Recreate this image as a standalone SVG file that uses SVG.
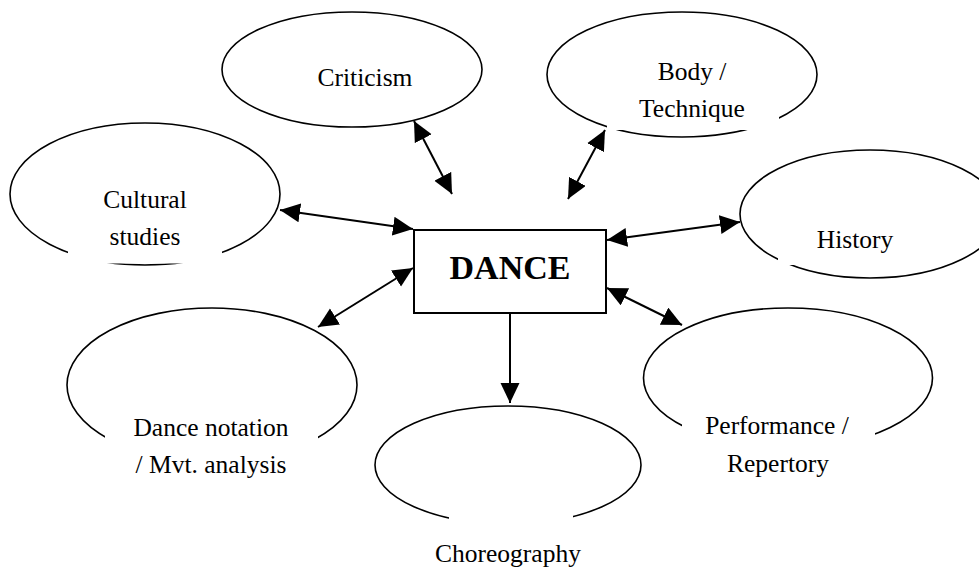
<svg xmlns="http://www.w3.org/2000/svg" width="979" height="568" viewBox="0 0 979 568">
<style>
.oval{fill:none;stroke:#000;stroke-width:1.6}
.mask{fill:#fff;stroke:none}
.lbl{font-family:"Liberation Serif","Times New Roman",serif;font-size:25.5px;fill:#000;text-anchor:middle}
.main{font-family:"Liberation Serif","Times New Roman",serif;font-size:34px;font-weight:bold;fill:#000;text-anchor:middle}
.conn{stroke:#000;stroke-width:2;fill:none}
</style>
<defs>
<marker id="ah" markerUnits="userSpaceOnUse" markerWidth="22" markerHeight="20" refX="20" refY="9.5" orient="auto-start-reverse" viewBox="0 0 22 20">
<path d="M0,0 L20,9.5 L0,19 z" fill="#000"/>
</marker>
</defs>
<rect width="979" height="568" fill="#fff"/>
<g id="criticism">
<ellipse class="oval" cx="352" cy="69.5" rx="130" ry="57.5"/>
<text class="lbl" x="365" y="86">Criticism</text>
</g>
<g id="body-technique">
<ellipse class="oval" cx="682" cy="74.5" rx="135" ry="62.5"/>
<rect class="mask" x="607" y="60" width="172" height="70"/>
<text class="lbl" x="692" y="80">Body /</text>
<text class="lbl" x="692" y="117">Technique</text>
</g>
<g id="cultural-studies">
<ellipse class="oval" cx="145" cy="194" rx="135" ry="71"/>
<rect class="mask" x="68" y="160" width="154" height="103.5"/>
<text class="lbl" x="145" y="208">Cultural</text>
<text class="lbl" x="145" y="245">studies</text>
</g>
<g id="history">
<ellipse class="oval" cx="870" cy="214" rx="130" ry="64"/>
<rect class="mask" x="778" y="225" width="127" height="40"/>
<text class="lbl" x="855" y="248">History</text>
</g>
<g id="dance">
<rect x="414" y="230" width="192" height="83" fill="#fff" stroke="#000" stroke-width="2"/>
<text class="main" x="510" y="279">DANCE</text>
</g>
<g id="dance-notation">
<ellipse class="oval" cx="212" cy="385" rx="145" ry="77"/>
<rect class="mask" x="105" y="420" width="213" height="70"/>
<text class="lbl" x="211" y="436">Dance notation</text>
<text class="lbl" x="211" y="473">/ Mvt. analysis</text>
</g>
<g id="performance-repertory">
<ellipse class="oval" cx="788" cy="378" rx="144.5" ry="70"/>
<rect class="mask" x="682" y="415" width="193" height="75"/>
<text class="lbl" x="777" y="434">Performance /</text>
<text class="lbl" x="778" y="472">Repertory</text>
</g>
<g id="choreography">
<ellipse class="oval" cx="508" cy="465" rx="133" ry="59"/>
<rect class="mask" x="449" y="510" width="124" height="58"/>
<text class="lbl" x="508" y="562">Choreography</text>
</g>
<g id="connectors">
<line class="conn" x1="414" y1="121" x2="452" y2="194" marker-start="url(#ah)" marker-end="url(#ah)"/>
<line class="conn" x1="605" y1="130" x2="568" y2="199" marker-start="url(#ah)" marker-end="url(#ah)"/>
<line class="conn" x1="280" y1="210" x2="413" y2="229" marker-start="url(#ah)" marker-end="url(#ah)"/>
<line class="conn" x1="607" y1="240" x2="740" y2="222" marker-start="url(#ah)" marker-end="url(#ah)"/>
<line class="conn" x1="413" y1="268" x2="318" y2="327" marker-start="url(#ah)" marker-end="url(#ah)"/>
<line class="conn" x1="607" y1="288" x2="682" y2="325" marker-start="url(#ah)" marker-end="url(#ah)"/>
<line class="conn" x1="510" y1="313" x2="510" y2="403" marker-end="url(#ah)"/>
</g>
</svg>
